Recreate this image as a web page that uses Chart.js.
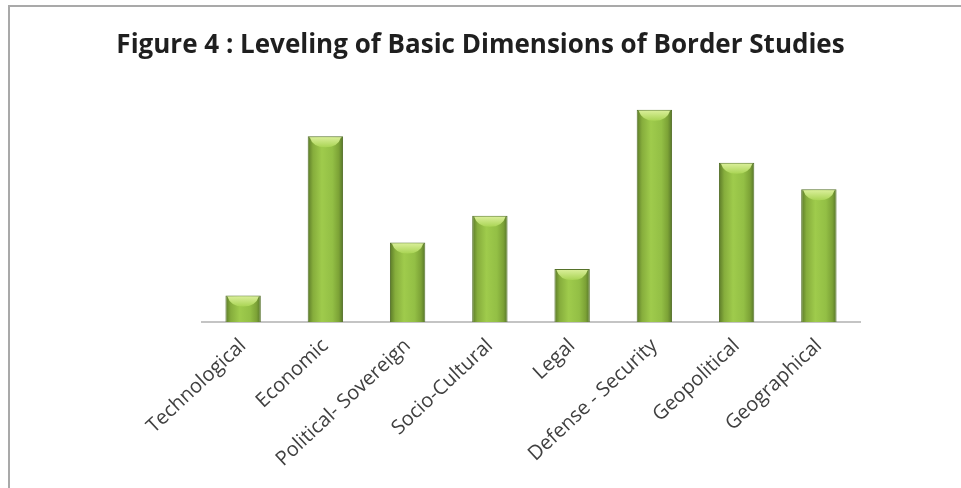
<!DOCTYPE html>
<html>
<head>
<meta charset="utf-8">
<script src="https://cdn.jsdelivr.net/npm/chart.js@4.4.1/dist/chart.umd.min.js"></script>
<style>
  html, body { margin: 0; padding: 0; background: #fff; }
  #frame {
    position: absolute; left: 8px; top: 5px; width: 953px; height: 483px;
    border-top: 2px solid #a9a9a9; border-left: 2px solid #a9a9a9;
  }
  #wrap { position: absolute; left: 0; top: 0; width: 961px; height: 488px; }
</style>
</head>
<body>
<div id="frame"></div>
<div id="wrap"><canvas id="chart"></canvas></div>
<script>
// categories and their levels (rank 1..8)
const dimensions = [
    "Technological",
    "Economic",
    "Political- Sovereign",
    "Socio-Cultural",
    "Legal",
    "Defense - Security",
    "Geopolitical",
    "Geographical",
];
const levels = [1, 7, 3, 4, 2, 8, 6, 5];

const barPct = 0.43;

// horizontal shading for each bar, like the rounded office-style bars
const barFill = (ctx) => {
    const chart = ctx.chart;
    if (!chart.chartArea || ctx.type !== "data") return "#8db43e";
    const xs = chart.scales.x;
    const cx = xs.getPixelForValue(ctx.dataIndex);
    const half = (xs.width / dimensions.length) * barPct / 2;
    const g = chart.ctx.createLinearGradient(cx - half, 0, cx + half, 0);
    g.addColorStop(0, "#5b7a28");
    g.addColorStop(0.15, "#86ad3c");
    g.addColorStop(0.4, "#9fcb4c");
    g.addColorStop(0.7, "#93bf45");
    g.addColorStop(0.88, "#7ca236");
    g.addColorStop(1, "#56752a");
    return g;
};

// light bevel on top of every bar
const capPlugin = {
    id: "caps",
    afterDatasetsDraw(chart) {
        const c = chart.ctx;
        chart.getDatasetMeta(0).data.forEach((bar) => {
            const l = bar.x - bar.width / 2 + 2;
            const r = bar.x + bar.width / 2 - 2;
            const t = bar.y + 1;
            const g = c.createLinearGradient(0, t, 0, t + 10);
            g.addColorStop(0, "#d9ee98");
            g.addColorStop(1, "#a9d454");
            c.save();
            c.beginPath();
            c.moveTo(l, t);
            c.lineTo(r, t);
            c.quadraticCurveTo(r - 3, t + 10, bar.x, t + 10);
            c.quadraticCurveTo(l + 3, t + 10, l, t);
            c.closePath();
            c.fillStyle = g;
            c.fill();
            c.restore();
        });
    },
};

// invisible side axes only reserve space, so the title stays centred on the page
const spacer = (w, pos) => ({
    position: pos,
    display: true,
    grid: { display: false },
    border: { display: false },
    ticks: { display: false },
    afterFit: (s) => { s.width = w; },
});

new Chart(document.getElementById("chart"), {
    type: "bar",
    plugins: [capPlugin],
    data: {
        labels: dimensions,
        datasets: [
            {
                data: levels,
                backgroundColor: barFill,
                borderColor: "#55712a",
                borderWidth: 1,
                barPercentage: barPct,
                categoryPercentage: 1,
            },
        ],
    },
    options: {
        responsive: true,
        maintainAspectRatio: false,
        animation: false,
        layout: { padding: { left: 0, right: 0, top: 3, bottom: 0 } },
        plugins: {
            legend: { display: false },
            tooltip: { enabled: false },
            title: {
                display: true,
                text: "Figure 4 : Leveling of Basic Dimensions of Border Studies",
                color: "#1f1f1f",
                font: { family: "Open Sans", size: 26, weight: "bold" },
                padding: { top: 27, bottom: 22 },
            },
        },
        scales: {
            y: { ...spacer(202, "left"), min: 0, max: 9 },
            yr: { ...spacer(101, "right"), min: 0, max: 9 },
            x: {
                grid: { display: false },
                border: { display: true, color: "#c4c4c4", width: 2 },
                ticks: {
                    color: "#404040",
                    font: { family: "Open Sans", size: 20 },
                    minRotation: 43,
                    maxRotation: 43,
                    padding: 4,
                },
                afterFit: (s) => { s.height = 166; },
            },
        },
    },
});
</script>
</body>
</html>
